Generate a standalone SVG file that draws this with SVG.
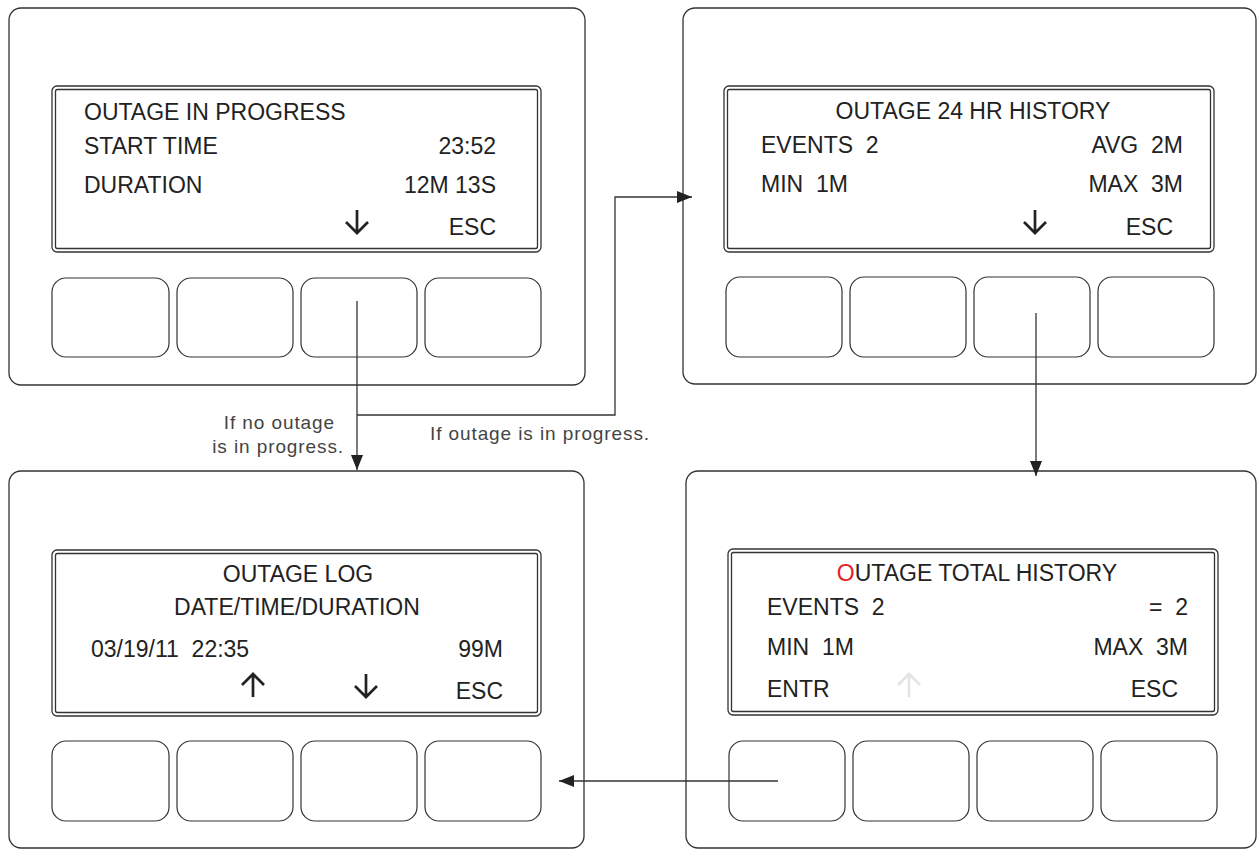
<svg xmlns="http://www.w3.org/2000/svg" width="1257" height="849" viewBox="0 0 1257 849">
<style>
.panel{fill:#fff;stroke:#333;stroke-width:1.3}
.scr{fill:none;stroke:#333;stroke-width:1.3}
.btn{fill:#fff;stroke:#333;stroke-width:1.2}
.t{font-family:"Liberation Sans",Arial,sans-serif;font-size:23px;fill:#222;white-space:pre}
.e{text-anchor:end}
.m{text-anchor:middle}
.lbl{font-family:"Liberation Sans",Arial,sans-serif;font-size:19px;fill:#444;letter-spacing:0.9px}
.ico{fill:none;stroke:#222;stroke-width:2.7}
.ico2{fill:none;stroke:#e2e4e7;stroke-width:2.7}
.con{fill:none;stroke:#333;stroke-width:1.3}
</style>
<defs>
<marker id="ah" viewBox="0 0 15 12" refX="15" refY="6" markerWidth="15" markerHeight="12" markerUnits="userSpaceOnUse" orient="auto">
<path d="M0,0 L15,6 L0,12 z" fill="#222"/>
</marker>
</defs>
<rect width="1257" height="849" fill="#fff"/>

<g id="panel-in-progress">
<rect class="panel" x="9" y="8" width="576" height="377" rx="12"/>
<rect class="scr" x="52" y="86" width="489" height="166" rx="5"/>
<rect class="scr" x="55.5" y="89.5" width="482" height="159" rx="2"/>
<rect class="btn" x="52" y="278" width="117" height="79" rx="14"/>
<rect class="btn" x="177" y="278" width="116" height="79" rx="14"/>
<rect class="btn" x="301" y="278" width="116" height="79" rx="14"/>
<rect class="btn" x="425" y="278" width="116" height="79" rx="14"/>
<text class="t" x="84" y="120">OUTAGE IN PROGRESS</text>
<text class="t" x="84" y="154">START TIME</text>
<text class="t e" x="496" y="154">23:52</text>
<text class="t" x="84" y="193">DURATION</text>
<text class="t e" x="496" y="193">12M 13S</text>
<text class="t e" x="496" y="235">ESC</text>
<path class="ico" d="M357,210 V233 M346,222 L357,233 L368,222"/>
</g>

<g id="panel-24hr">
<rect class="panel" x="683" y="8" width="573" height="376" rx="12"/>
<rect class="scr" x="724" y="86" width="490" height="166" rx="5"/>
<rect class="scr" x="727.5" y="89.5" width="483" height="159" rx="2"/>
<rect class="btn" x="726" y="277" width="116" height="80" rx="14"/>
<rect class="btn" x="850" y="277" width="116" height="80" rx="14"/>
<rect class="btn" x="974" y="277" width="116" height="80" rx="14"/>
<rect class="btn" x="1098" y="277" width="116" height="80" rx="14"/>
<text class="t m" x="973" y="119">OUTAGE 24 HR HISTORY</text>
<text class="t" x="761" y="153">EVENTS  2</text>
<text class="t e" x="1183" y="153">AVG  2M</text>
<text class="t" x="761" y="192">MIN  1M</text>
<text class="t e" x="1183" y="192">MAX  3M</text>
<text class="t e" x="1173" y="235">ESC</text>
<path class="ico" d="M1035,210 V233 M1024,222 L1035,233 L1046,222"/>
</g>

<g id="panel-log">
<rect class="panel" x="9" y="471" width="575" height="377" rx="12"/>
<rect class="scr" x="52" y="550" width="489" height="166" rx="5"/>
<rect class="scr" x="55.5" y="553.5" width="482" height="159" rx="2"/>
<rect class="btn" x="52" y="741" width="117" height="80" rx="14"/>
<rect class="btn" x="177" y="741" width="116" height="80" rx="14"/>
<rect class="btn" x="301" y="741" width="116" height="80" rx="14"/>
<rect class="btn" x="425" y="741" width="116" height="80" rx="14"/>
<text class="t m" x="298" y="582">OUTAGE LOG</text>
<text class="t m" x="297" y="615">DATE/TIME/DURATION</text>
<text class="t" x="91" y="657">03/19/11  22:35</text>
<text class="t e" x="503" y="657">99M</text>
<text class="t e" x="503" y="699">ESC</text>
<path class="ico" d="M253,697 V674 M242,685 L253,674 L264,685"/>
<path class="ico" d="M366,674 V697 M355,686 L366,697 L377,686"/>
</g>

<g id="panel-total">
<rect class="panel" x="686" y="471" width="570" height="377" rx="12"/>
<rect class="scr" x="728" y="549" width="490" height="166" rx="5"/>
<rect class="scr" x="731.5" y="552.5" width="483" height="159" rx="2"/>
<rect class="btn" x="729" y="741" width="116" height="80" rx="14"/>
<rect class="btn" x="853" y="741" width="116" height="80" rx="14"/>
<rect class="btn" x="977" y="741" width="116" height="80" rx="14"/>
<rect class="btn" x="1101" y="741" width="116" height="80" rx="14"/>
<text class="t m" x="977" y="581"><tspan fill="#e8202a">O</tspan>UTAGE TOTAL HISTORY</text>
<text class="t" x="767" y="615">EVENTS  2</text>
<text class="t e" x="1188" y="615">=  2</text>
<text class="t" x="767" y="655">MIN  1M</text>
<text class="t e" x="1188" y="655">MAX  3M</text>
<text class="t" x="767" y="697">ENTR</text>
<text class="t e" x="1178" y="697">ESC</text>
<path class="ico2" d="M909,697 V674 M898,685 L909,674 L920,685"/>
</g>

<g id="connectors">
<path class="con" d="M357,301 V470" marker-end="url(#ah)"/>
<path class="con" d="M357,415 H615 V197 H692" marker-end="url(#ah)"/>
<path class="con" d="M1036,313 V476" marker-end="url(#ah)"/>
<path class="con" d="M778,781 H559" marker-end="url(#ah)"/>
</g>

<g id="labels">
<text class="lbl e" x="335" y="429">If no outage</text>
<text class="lbl e" x="344" y="453">is in progress.</text>
<text class="lbl" x="430" y="440">If outage is in progress.</text>
</g>
</svg>
